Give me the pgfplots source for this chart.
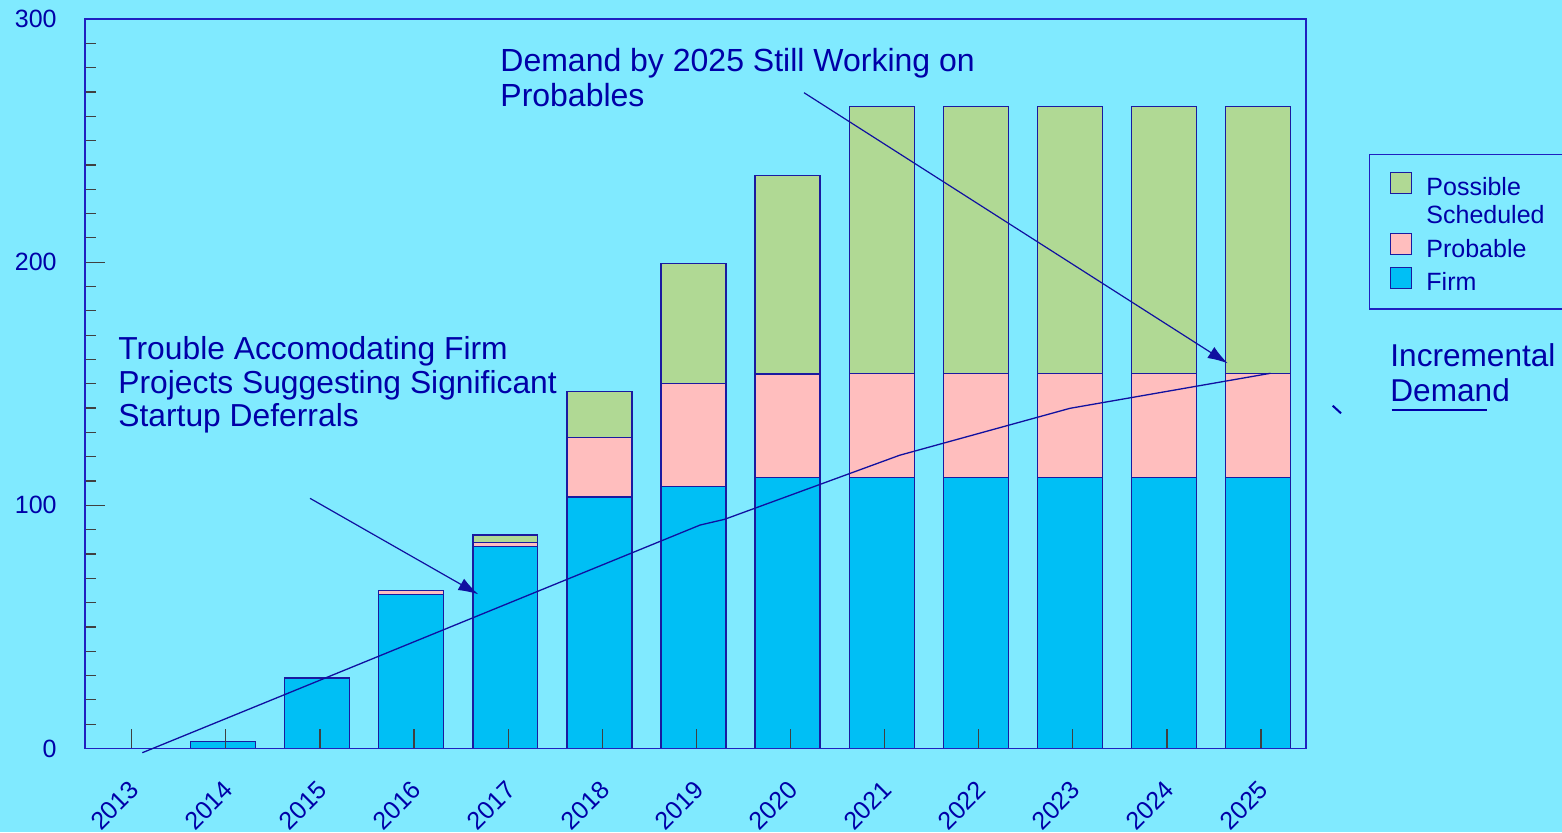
\documentclass[border=0pt]{standalone}
\usepackage{pgfplots}
\pgfplotsset{compat=1.18}
\usepackage{fontspec}
\setmainfont{Liberation Sans}
\usetikzlibrary{arrows.meta}
\definecolor{bg}{HTML}{80EAFF}
\definecolor{firm}{HTML}{00BFF5}
\definecolor{prob}{HTML}{FFBEBE}
\definecolor{poss}{HTML}{B0D994}
\definecolor{txt}{HTML}{0000A8}
\definecolor{edge}{HTML}{1A1AA0}
\definecolor{axisblue}{HTML}{2020C0}
\definecolor{tickgray}{HTML}{404040}
\definecolor{linec}{HTML}{1010A0}
\begin{document}
\begin{tikzpicture}
\fill[bg] (0,0) rectangle (781pt,416pt);
\begin{axis}[
  at={(42.5pt,41.75pt)}, anchor=south west,
  scale only axis, width=610.5pt, height=364.75pt,
  set layers, axis on top,
  ybar stacked, bar width=0.69, bar shift=-0.03,
  xmin=-0.496, xmax=12.478, ymin=0, ymax=300,
  clip=false,
  axis line style={draw=axisblue, line width=0.75pt},
  xtick={0,...,12},
  xticklabels={2013,2014,2015,2016,2017,2018,2019,2020,2021,2022,2023,2024,2025},
  ytick={0,100,200,300}, minor y tick num=9,
  xtick pos=bottom, ytick pos=left, tick align=inside,
  major tick length=10pt, minor tick length=5.5pt,
  tick style={draw=tickgray, line width=0.6pt},
  xticklabel style={font=\fontsize{12.5}{14}\selectfont, text=txt, inner sep=0pt, xshift=1.5pt, yshift=-18.4pt, rotate=45, anchor=east},
  yticklabel style={font=\fontsize{12.5}{15}\selectfont, text=txt, inner sep=0pt, anchor=east, xshift=-14pt},
  /pgf/number format/assume math mode=true,
  legend style={at={(1.0688,0.7907)}, anchor=north west, draw=none, fill=none,
    inner sep=0pt, outer sep=0pt, row sep=3.3pt, column sep=7pt,
    font=\fontsize{12.5}{14.15}\selectfont, text=txt,
    nodes={inner sep=0pt}, cells={anchor=base west}},
  legend image code/.code={\draw[#1] (0pt,1.15pt) rectangle (10.5pt,11.65pt);},
  every axis plot/.append style={draw=edge, line width=0.7pt},
]
\addplot[fill=firm, forget plot] coordinates {(1,3) (2,29) (3,63.4) (4,83.1) (5,103.5) (6,107.7) (7,111.5) (8,111.5) (9,111.5) (10,111.5) (11,111.5) (12,111.5)};
\addplot[fill=prob, forget plot] coordinates {(1,0) (2,0) (3,1.6) (4,1.7) (5,24.5) (6,42.3) (7,42.5) (8,42.8) (9,42.8) (10,42.8) (11,42.8) (12,42.8)};
\addplot[fill=poss, forget plot] coordinates {(1,0) (2,0) (3,0) (4,3.0) (5,18.7) (6,49.5) (7,81.6) (8,109.7) (9,109.7) (10,109.7) (11,109.7) (12,109.7)};
\addplot[stack plots=false, sharp plot, forget plot, on layer=axis foreground, draw=linec, line width=0.65pt, mark=none]
  coordinates {(0.113,-1.73) (6.04,91.9) (6.30,94.25) (8.16,120.6) (9.97,139.9) (12.10,154.3)};
\addlegendimage{fill=poss, draw=edge, line width=0.7pt}
\addlegendentry{Possible}
\addlegendimage{empty legend}
\addlegendentry{Scheduled}
\addlegendimage{fill=prob, draw=edge, line width=0.7pt}
\addlegendentry{Probable}
\addlegendimage{fill=firm, draw=edge, line width=0.7pt}
\addlegendentry{Firm}
\end{axis}
\begin{scope}[x=0.5pt,y=-0.5pt,yshift=416pt]
\node[anchor=base west, align=left, inner sep=0pt, font=\fontsize{15.9}{16.7}\selectfont, text=txt] at (118,426.7) {Trouble Accomodating Firm\\Projects Suggesting Significant\\Startup Deferrals};
\node[anchor=base west, align=left, inner sep=0pt, font=\fontsize{16}{17.5}\selectfont, text=txt] at (500,106.7) {Demand by 2025 Still Working on\\Probables};
\node[anchor=base west, align=left, inner sep=0pt, font=\fontsize{15.8}{17.5}\selectfont, text=txt] at (1390,401.7) {Incremental\\Demand};
\draw[txt, line width=1.2pt] (1391.7,410) -- (1487,410);
\draw[txt, line width=1pt] (1332.7,405.7) -- (1341,413.3);
\draw[linec, line width=0.6pt, -{Latex[length=10pt,width=6.5pt]}] (310,498.3) -- (478.3,594.3);
\draw[linec, line width=0.6pt, -{Latex[length=10pt,width=6.5pt]}] (804,92.7) -- (1227.7,363.3);
\draw[axisblue, line width=0.6pt] (1369.3,154.3) rectangle (1620,309);
\end{scope}
\pgfresetboundingbox
\useasboundingbox (0,0) rectangle (781pt,416pt);
\end{tikzpicture}
\end{document}
